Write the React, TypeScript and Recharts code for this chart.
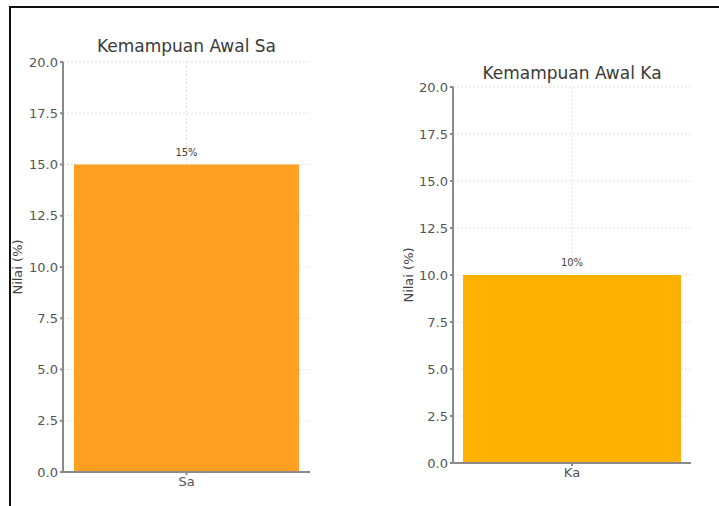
import { Bar, BarChart, CartesianGrid, LabelList, XAxis, YAxis } from "recharts";

const titleSa = "Kemampuan Awal Sa";
const titleKa = "Kemampuan Awal Ka";
const yLabel = "Nilai (%)";
const yTicks = [0, 2.5, 5, 7.5, 10, 12.5, 15, 17.5, 20];

const saCategories = ["Sa"];
const saValues = [15];
const kaCategories = ["Ka"];
const kaValues = [10];

const saData = saCategories.map((name, i) => ({ name, value: saValues[i] }));
const kaData = kaCategories.map((name, i) => ({ name, value: kaValues[i] }));

const font = "'DejaVu Sans', sans-serif";
const axisGray = "#8a8a8a";
const tickStyle = { fontSize: 13, fill: "#555", fontFamily: font };

function Panel({
  data,
  title,
  color,
  left,
  width,
  margin,
  yWidth,
  gap,
  titleTop,
  labelOffset,
}: {
  data: { name: string; value: number }[];
  title: string;
  color: string;
  left: number;
  width: number;
  margin: { top: number; right: number; left: number; bottom: number };
  yWidth: number;
  gap: number;
  titleTop: number;
  labelOffset: number;
}) {
  const plotLeft = margin.left + yWidth;
  const plotRight = width - margin.right;
  return (
    <div style={{ position: "absolute", left, top: 0, width, height: 506 }}>
      <div
        style={{
          position: "absolute",
          left: plotLeft,
          width: plotRight - plotLeft,
          top: titleTop,
          textAlign: "center",
          fontFamily: font,
          fontSize: 17,
          color: "#3a3a3a",
          lineHeight: "20px",
        }}
      >
        {title}
      </div>
      <BarChart width={width} height={506} data={data} margin={margin} barCategoryGap={gap}>
        <CartesianGrid stroke="#e2e2e2" strokeDasharray="2 2" syncWithTicks />
        <XAxis
          dataKey="name"
          height={24}
          tick={tickStyle}
          stroke={axisGray}
          strokeWidth={2}
          tickSize={3}
          tickMargin={2}
        />
        <YAxis
          width={yWidth}
          domain={[0, 20]}
          ticks={yTicks}
          tickFormatter={(v: number) => v.toFixed(1)}
          tick={tickStyle}
          stroke={axisGray}
          strokeWidth={2}
          tickSize={3}
          tickMargin={2}
          label={{
            value: yLabel,
            angle: -90,
            position: "insideLeft",
            offset: labelOffset,
            style: { textAnchor: "middle", fontSize: 13, fill: "#444", fontFamily: font },
          }}
        />
        <Bar dataKey="value" fill={color} isAnimationActive={false}>
          <LabelList
            dataKey="value"
            position="top"
            offset={9}
            formatter={(v: number) => `${v}%`}
            style={{ fontSize: 10, fill: "#444", fontFamily: font }}
          />
        </Bar>
      </BarChart>
    </div>
  );
}

export default function App() {
  return (
    <div
      style={{
        position: "absolute",
        left: 0,
        top: 0,
        width: 719,
        height: 506,
        overflow: "hidden",
        background: "#fff",
      }}
    >
      <div
        style={{
          position: "absolute",
          left: 9,
          top: 6,
          width: 740,
          height: 540,
          borderLeft: "2px solid #111",
          borderTop: "2px solid #111",
        }}
      />
      <Panel
        data={saData}
        title={titleSa}
        color="#FFA022"
        left={0}
        width={330}
        margin={{ top: 62, right: 20, left: 0, bottom: 10 }}
        yWidth={63}
        gap={11}
        titleTop={36}
        labelOffset={17}
      />
      <Panel
        data={kaData}
        title={titleKa}
        color="#FFB000"
        left={360}
        width={359}
        margin={{ top: 87, right: 28, left: 43, bottom: 19 }}
        yWidth={50}
        gap={10}
        titleTop={63}
        labelOffset={5}
      />
    </div>
  );
}
